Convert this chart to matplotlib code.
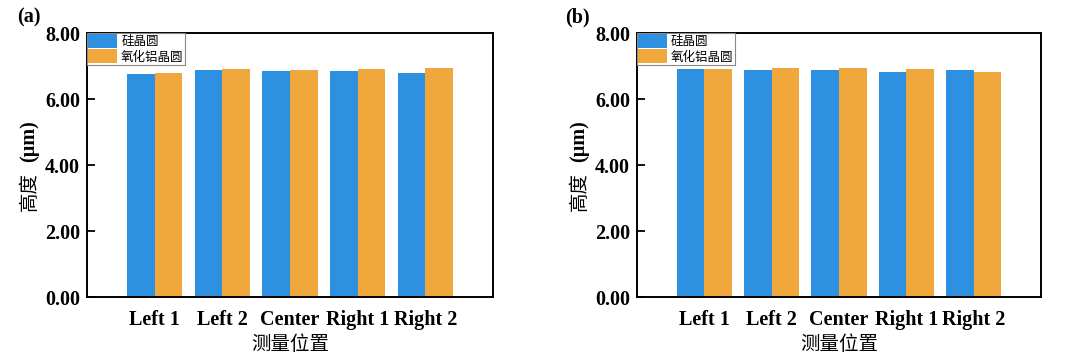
import matplotlib
matplotlib.use("Agg")
from matplotlib import pyplot as plt
import numpy as np

# measurement positions
positions = ["Left 1", "Left 2", "Center", "Right 1", "Right 2"]
series_names = ["硅晶圆", "氧化铝晶圆"]

# heights (um), panel (a)
a_si = [6.76, 6.88, 6.85, 6.85, 6.80]
a_al = [6.79, 6.91, 6.89, 6.92, 6.93]
# heights (um), panel (b)
b_si = [6.90, 6.88, 6.89, 6.83, 6.88]
b_al = [6.92, 6.95, 6.93, 6.90, 6.82]

yticks = [0, 2, 4, 6, 8]

BLUE = "#2E90E0"
ORANGE = "#F0A83C"
SERIF = ["Liberation Serif", "Noto Sans CJK SC"]
CJK = ["Noto Sans CJK SC", "Liberation Serif"]

fig = plt.figure(figsize=(10.8, 3.56), dpi=100)
ax_a = fig.add_axes([0.0806, 0.1657, 0.3759, 0.7416])
ax_b = fig.add_axes([0.5898, 0.1657, 0.3741, 0.7416])

x = np.arange(1, len(positions) + 1)
w = 0.41

for ax, si, al, tag, lx in [(ax_a, a_si, a_al, "(a)", 0.016), (ax_b, b_si, b_al, "(b)", 0.523)]:
    ax.bar(x - w / 2, si, width=w, color=BLUE, label=series_names[0], zorder=2)
    ax.bar(x + w / 2, al, width=w, color=ORANGE, label=series_names[1], zorder=2)
    ax.set_xlim(0, 6)
    ax.set_ylim(0, 8)
    ax.set_xticks(x)
    ax.set_xticklabels(positions, fontfamily=SERIF, fontweight="bold", fontsize=14.5)
    ax.set_yticks(yticks)
    ax.set_yticklabels(["%.2f" % v for v in yticks], fontfamily=SERIF, fontweight="bold", fontsize=14.5)
    ax.tick_params(axis="both", direction="in", width=1.3)
    ax.tick_params(axis="y", length=6, pad=5)
    ax.tick_params(axis="x", length=4, pad=9)
    for s in ax.spines.values():
        s.set_linewidth(1.4)
    ax.set_xlabel("测量位置", fontfamily=CJK, fontsize=14, labelpad=3)
    leg = ax.legend(loc="upper left", bbox_to_anchor=(0, 1), borderaxespad=0,
                    prop={"family": CJK, "size": 9}, handlelength=2.3, handleheight=1.35,
                    labelspacing=0.1, handletextpad=0.35, borderpad=0.08, fancybox=False,
                    framealpha=1)
    leg.get_frame().set_edgecolor("#888888")
    leg.get_frame().set_linewidth(0.8)
    leg.set_zorder(5)
    fig.text(lx, 0.95, tag, fontfamily=SERIF, fontweight="bold", fontsize=14.5, ha="left", va="center")

# y labels: Chinese part plain, unit bold
for xl in [0.027, 0.536]:
    fig.text(xl, 0.463, "高度", fontfamily=CJK, fontsize=14, rotation=90, ha="center", va="center")
    fig.text(xl, 0.603, "(μm)", fontfamily=SERIF, fontweight="bold", fontsize=14.5, rotation=90, ha="center", va="center")

plt.savefig("out.png", dpi=100)
